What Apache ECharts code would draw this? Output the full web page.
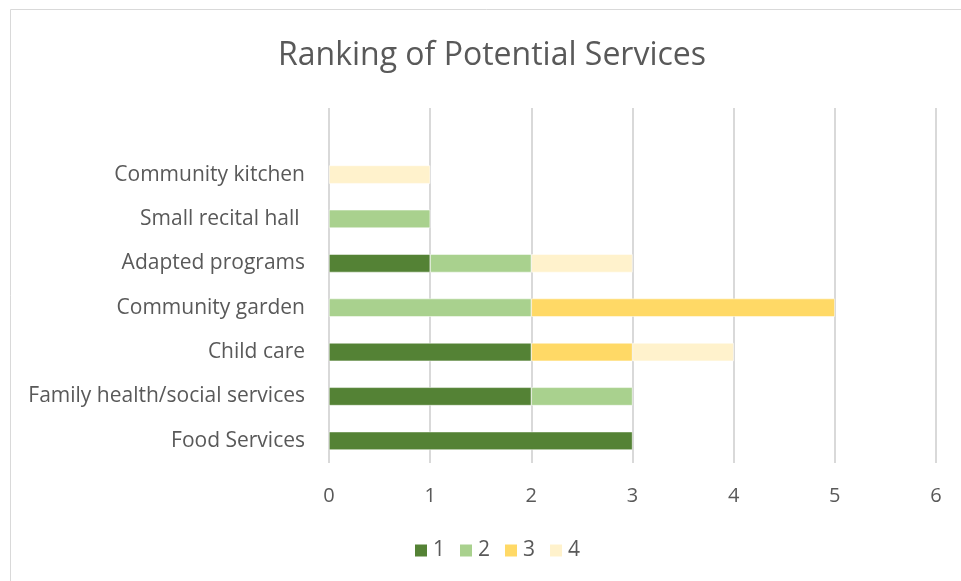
<!DOCTYPE html>
<html>
<head>
<meta charset="utf-8">
<script src="https://cdn.jsdelivr.net/npm/echarts@6/dist/echarts.min.js"></script>
<style>
  html, body { margin: 0; padding: 0; background: #fff; }
  #chart { width: 961px; height: 581px; }
</style>
</head>
<body>
<div id="chart"></div>
<script>
// Services, bottom to top; the blank entry leaves headroom above the top bar
const categories = ['Food Services', 'Family health/social services', 'Child care', 'Community garden', 'Adapted programs', 'Small recital hall ', 'Community kitchen', ''];
const rank1 = [3, 2, 2, 0, 1, 0, 0, 0];
const rank2 = [0, 1, 0, 2, 1, 1, 0, 0];
const rank3 = [0, 0, 1, 3, 0, 0, 0, 0];
const rank4 = [0, 0, 1, 0, 1, 0, 1, 0];
const seriesNames = ['1', '2', '3', '4'];
const colors = ['#548235', '#A9D18E', '#FFD966', '#FFF2CC'];

const font = '"Open Sans", "Noto Sans", sans-serif';
const chart = echarts.init(document.getElementById('chart'));

const mk = (name, data, color) => ({
  name, type: 'bar', stack: 'total', data: data.map(v => v === 0 ? null : v),
  barCategoryGap: '59%',
  itemStyle: { color, borderColor: '#fff', borderWidth: 0.5 },
  emphasis: { disabled: true }
});

chart.setOption({
  animation: false,
  color: colors,
  title: {
    text: 'Ranking of Potential Services', left: 273, top: 35,
    textStyle: { fontFamily: font, fontWeight: 'normal', fontSize: 32, color: '#595959' }
  },
  graphic: [{
    type: 'rect', shape: { x: 10.5, y: 9.5, width: 980, height: 600 },
    style: { fill: 'none', stroke: '#d9d9d9', lineWidth: 1 }, silent: true
  }],
  legend: {
    bottom: 20, left: 413, itemWidth: 14, itemHeight: 14, itemGap: 13,
    icon: 'rect', padding: 0,
    textStyle: { fontFamily: font, fontSize: 21, color: '#595959' },
    data: seriesNames
  },
  grid: { left: 329, right: 25, top: 108, bottom: 118, containLabel: false },
  xAxis: {
    type: 'value', min: 0, max: 6, interval: 1,
    axisLine: { show: false }, axisTick: { show: false },
    splitLine: { lineStyle: { color: '#d9d9d9', width: 2 } },
    axisLabel: { fontFamily: font, fontSize: 20, color: '#595959', margin: 23 }
  },
  yAxis: {
    type: 'category', data: categories,
    axisLine: { show: false }, axisTick: { show: false },
    axisLabel: { fontFamily: font, fontSize: 21, color: '#595959', margin: 24 }
  },
  series: [
    mk(seriesNames[0], rank1, colors[0]),
    mk(seriesNames[1], rank2, colors[1]),
    mk(seriesNames[2], rank3, colors[2]),
    mk(seriesNames[3], rank4, colors[3])
  ]
});
</script>
</body>
</html>
